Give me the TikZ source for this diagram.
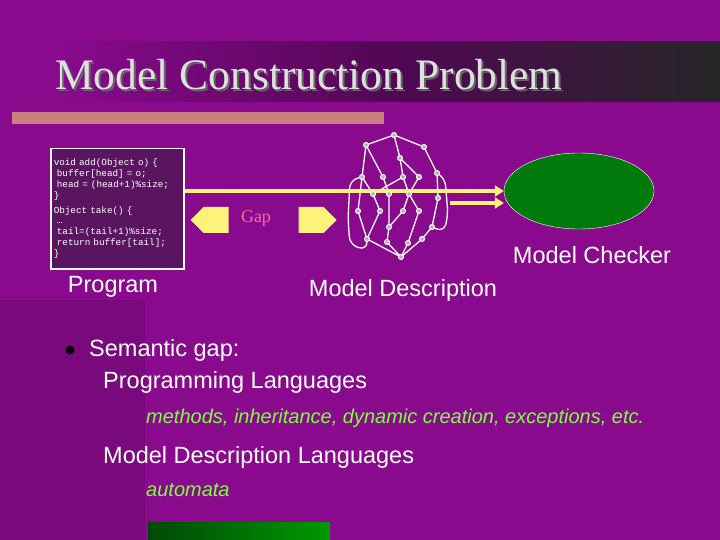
\documentclass[tikz,border=0pt]{standalone}
\usepackage{fontspec}
\setmainfont{Liberation Serif}
\newfontfamily\arialf{Liberation Sans}
\newfontfamily\monof{Liberation Mono}
\usetikzlibrary{arrows.meta,shapes.arrows,shapes.geometric}
\definecolor{bgp}{HTML}{8A0A8E}
\definecolor{boxp}{HTML}{5A1460}
\definecolor{barp}{HTML}{C88080}
\definecolor{gapc}{HTML}{FF6A8A}
\definecolor{ylw}{HTML}{FFF27A}
\definecolor{grn}{HTML}{007A0A}
\definecolor{itg}{HTML}{7CFF3C}
\tikzset{
 lbl/.style={font=\arialf\fontsize{23.5}{26}\selectfont, text=white, inner sep=0pt},
 itl/.style={anchor=west, inner sep=0pt, text=itg, font=\arialf\itshape\fontsize{20}{22}\selectfont},
 gv/.style={circle, draw=white, fill=gray!60, line width=1pt, inner sep=0pt, minimum size=5pt},
 ge/.style={draw=white, line width=1.3pt},
 yl/.style={draw=ylw, line width=4pt, -{Triangle[length=9pt,width=11pt]}},
 fatarrow/.style={single arrow, fill=ylw, draw=none, minimum height=38pt, minimum width=26pt, single arrow head extend=0pt, inner sep=4pt}
}
\begin{document}
\begin{tikzpicture}[x=1pt,y=-1pt]
\fill[bgp] (0,0) rectangle (720,540);
\shade[left color=bgp, right color=black!85, middle color=bgp!60!black] (55,42) rectangle (720,102);
\fill[bgp!88!black] (0,300) rectangle (145,540);
\fill[barp] (12,112) rectangle (384,124);
\shade[left color=grn!60!black, right color=green!60!black] (148,522) rectangle (330,540);
\node[font=\fontsize{43.5}{46}\selectfont, text=black!60, inner sep=0pt] at (311,77) {Model Construction Problem};
\node (title) [font=\fontsize{43.5}{46}\selectfont, text=white!88!black, inner sep=0pt] at (309,75) {Model Construction Problem};
% code box
\node (code) [draw=white, line width=1.5pt, fill=boxp, text=white, anchor=north west, minimum width=133pt, minimum height=120pt, text width=127pt, inner sep=3pt, font=\monof\fontsize{9.3}{10.8}\selectfont, align=left] at (50,148) {void add(Object o) \{\\
\ buffer[head] = o;\\
\ head = (head+1)\%size;\\
\}\\[4pt]
Object take() \{\\
\ \ldots\\
\ tail=(tail+1)\%size;\\
\ return buffer[tail];\\
\}};
\node (prog) [lbl] at (113,287) {Program};
\node (la) [fatarrow, shape border rotate=180] at (216,220) {};
\node (ra) [fatarrow] at (311,220) {};
\node (gap) [text=gapc, font=\fontsize{18}{20}\selectfont, inner sep=0pt] at (256,218) {Gap};
% ellipse
\node (mc) [ellipse, draw=white, fill=grn, minimum width=150pt, minimum height=76pt, inner sep=0pt] at (579,191) {};
\node (mcl) [lbl] at (592,255) {Model Checker};
% graph
\foreach \n/\x/\y in {T/394/135,A/366/145,B/424/147,C/400/158,D/362/177,E/383/177,F/403/177,G/419/177,H/437/173,I/373/194,J/389/194,K/409/194,L/438/198,M/358/211,N/380/211,O/403/211,P/419/211,Q/389/227,R/432/227,S/367/239,U/387/242,V/408/243,W/422/239,X/401/257}
  \coordinate (\n) at (\x,\y);
\draw[ge] (T)--(A) (T)--(B) (T)--(C) (A)--(D) (A)--(E) (C)--(F) (C)--(G) (B)--(H)
 (D)--(M) (E)--(J) (F)--(K) (G)--(K) (H)--(L) (D)--(I) (I)--(N) (J)--(Q) (K)--(O) (K)--(P) (L)--(R)
 (M)--(S) (Q)--(U) (P)--(V) (O)--(Q) (R)--(W) (S)--(X) (U)--(X) (V)--(X) (W)--(X) (N)--(S) (F)--(I);
\draw[ge, rounded corners=8pt] (D) -- (350,180) -- (348,220) -- (350,245) -- (367,250) -- (S);
\draw[ge, rounded corners=8pt] (H) -- (445,178) -- (448,215) -- (444,232) -- (R);
\draw[yl] (code.east |- 0,191) -- (mc.west |- 0,191);
\draw[yl] (450,203) -- (mc.west |- 0,203);
\foreach \n in {T,A,B,C,D,E,F,G,H,I,J,K,L,M,N,O,P,Q,R,S,U,V,W,X} \node[gv] at (\n) {};
\node (md) [lbl] at (403,290) {Model Description};
% bullets
\node (bul) [circle, fill=black, inner sep=0pt, minimum size=9pt] at (70,350) {};
\node (sg) [lbl, anchor=west] at (89,350) {Semantic gap:};
\node (pl) [lbl, anchor=west] at (103,382) {Programming Languages};
\node (mt) [itl] at (146,418) {methods, inheritance, dynamic creation, exceptions, etc.};
\node (mdl) [lbl, anchor=west] at (103,457) {Model Description Languages};
\node (au) [itl] at (146,490) {automata};
\useasboundingbox (0,0) rectangle (720,540);
\end{tikzpicture}
\end{document}
